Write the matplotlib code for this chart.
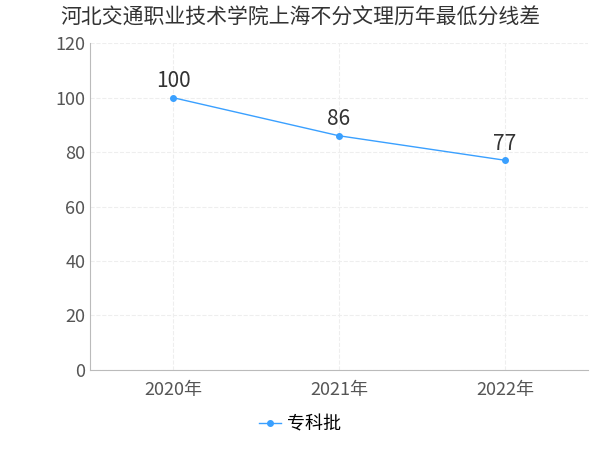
import matplotlib.pyplot as plt

plt.rcParams['font.family'] = 'Noto Sans CJK SC'

years = ['2020年', '2021年', '2022年']
scores = [100, 86, 77]
series_name = '专科批'
title = '河北交通职业技术学院上海不分文理历年最低分线差'

fig = plt.figure(figsize=(6, 4.5), dpi=100)
ax = fig.add_axes([0.15, 0.178, 0.83, 0.726])

x = list(range(len(years)))
ax.plot(x, scores, color='#3aa0ff', marker='o', markersize=4, linewidth=1, label=series_name)
for xi, v in zip(x, scores):
    ax.text(xi, v + 2, str(v), ha='center', va='bottom', fontsize=15, color='#333333')

ax.set_xlim(-0.5, 2.5)
ax.set_ylim(0, 120)
ax.set_yticks(range(0, 121, 20))
ax.set_xticks(x)
ax.set_xticklabels(years)
ax.tick_params(axis='both', labelsize=13, colors='#555555', length=0)
ax.tick_params(axis='x', pad=8)
ax.grid(True, color='#eeeeee', linestyle='--', linewidth=0.8)
ax.set_axisbelow(True)
for s in ['top', 'right']:
    ax.spines[s].set_visible(False)
ax.spines['left'].set_color('#bbbbbb')
ax.spines['bottom'].set_color('#bbbbbb')

fig.suptitle(title, x=0.5, y=0.985, fontsize=15, color='#333333')
fig.legend(loc='lower center', bbox_to_anchor=(0.5, 0.0), frameon=False, fontsize=13,
           handlelength=1.2, handletextpad=0.3)

fig.savefig('out.png')
